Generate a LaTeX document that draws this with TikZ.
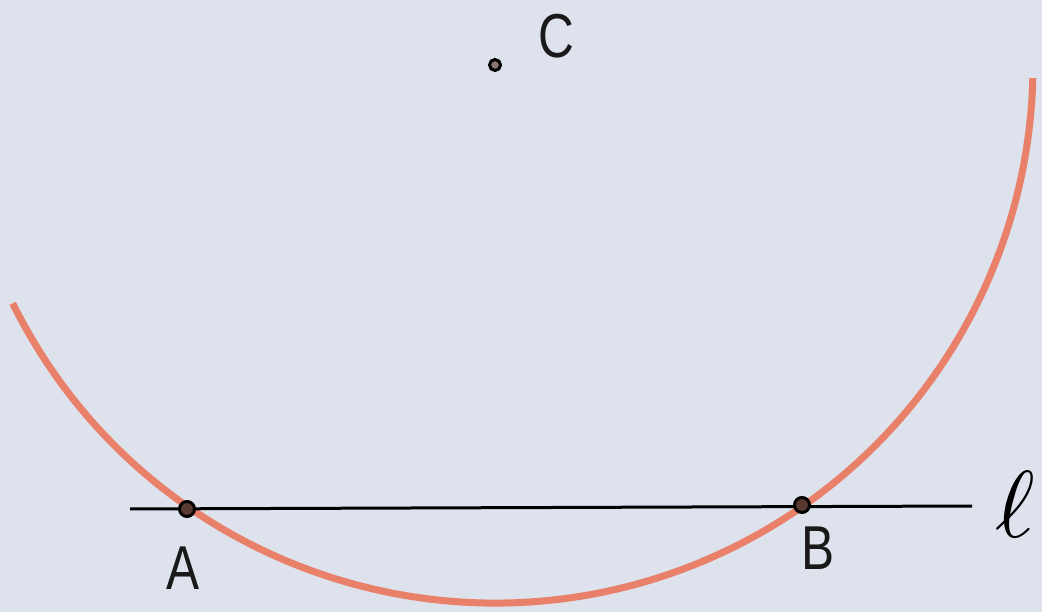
\documentclass[tikz,border=0pt]{standalone}
\usepackage{fontspec}
\setmainfont{Liberation Sans}
\definecolor{bg}{HTML}{DDE2EC}
\definecolor{arcred}{HTML}{E8806A}
\definecolor{dotfill}{HTML}{5A3A30}
\tikzset{
  pt/.style={circle,draw=black,line width=3pt,fill=dotfill,minimum size=15pt,inner sep=0pt},
  cpt/.style={circle,draw=black,line width=3pt,fill=dotfill!70,minimum size=11pt,inner sep=0pt},
  lbl/.style={font=\fontsize{62}{62}\selectfont\addfontfeature{FakeStretch=0.8}, inner sep=0pt, text=black!90}
}
\begin{document}
\begin{tikzpicture}[x=1pt,y=-1pt]
\useasboundingbox[fill=bg] (0,0) rectangle (1042,612);
\coordinate (Cc) at (495,65);
\coordinate (lL) at (130,509);
\coordinate (lR) at (972,506);
\draw[arcred, line width=7pt] (Cc) ++(206.3:538 and -538) arc[start angle=206.3, end angle=358.6, x radius=538, y radius=-538];
\draw[black, line width=3pt] (lL) -- (lR);
\node[pt] (A) at (187,509) {};
\node[pt] (B) at (802,505) {};
\node[cpt] (C) at (495,65) {};
\node[lbl] (Alab) at (183,568) {A};
\node[lbl] (Blab) at (818,548) {B};
\node[lbl] (Clab) at (556,36) {C};
\node[inner sep=0pt] (llab) at (1015,505) {\scalebox{9.5}{$\ell$}};
\end{tikzpicture}
\end{document}
